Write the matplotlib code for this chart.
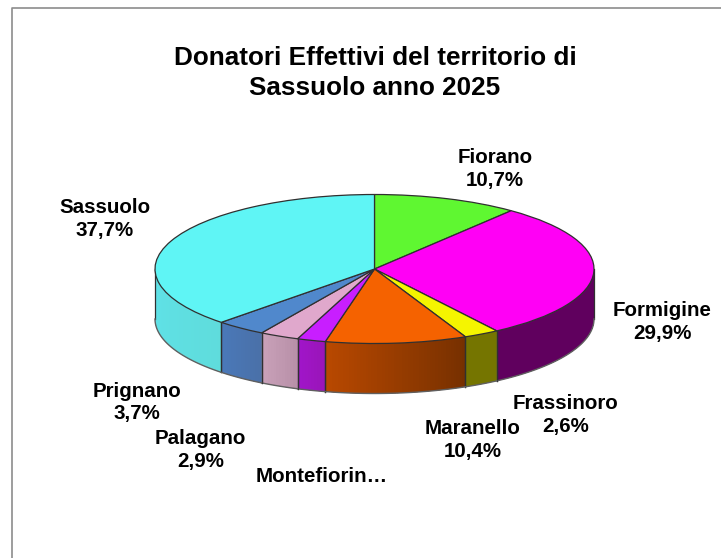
import numpy as np
import matplotlib
matplotlib.use("Agg")
import matplotlib.pyplot as plt
from matplotlib.lines import Line2D
from matplotlib.patches import Polygon
from matplotlib.colors import to_rgb

categories = ["Fiorano", "Formigine", "Frassinoro", "Maranello", "Montefiorino",
              "Palagano", "Prignano", "Sassuolo"]
values = [10.7, 29.9, 2.6, 10.4, 2.1, 2.9, 3.7, 37.7]
top_colors = ["#5ff731", "#ff00f5", "#f5f500", "#f56200", "#c81eff",
              "#e0a8cc", "#5088cc", "#5ff5f5"]
# side wall colours, at the clockwise start and end of each slice
side_start = ["#3a9a20", "#60005e", "#757500", "#763000", "#9a15b8",
              "#b890a8", "#4a70a8", "#5fdcdc"]
side_end = ["#3a9a20", "#60005e", "#757500", "#b84800", "#a015c8",
            "#c8a0b8", "#4a78b8", "#5fe2e8"]
label_text = ["Fiorano\n10,7%", "Formigine\n29,9%", "Frassinoro\n2,6%", "Maranello\n10,4%",
              "Montefiorin…", "Palagano\n2,9%", "Prignano\n3,7%", "Sassuolo\n37,7%"]
title_lines = ["Donatori Effettivi del territorio di", "Sassuolo anno 2025"]

W, H = 721, 558
CX, CY, RX, RY, DEPTH = 374.5, 269.0, 219.5, 74.5, 50.0
plt.rcParams["font.family"] = ["Liberation Sans", "DejaVu Sans"]
fig = plt.figure(figsize=(W / 100, H / 100), dpi=100, facecolor="white")
ax = fig.add_axes([0, 0, 1, 1])


def fx(px):
    return px / W


def fy(py):
    return 1 - py / H


fig.add_artist(Line2D([fx(11.5), fx(11.5), 1], [0, fy(8), fy(8)],
                      transform=fig.transFigure, color="#8c8c8c", lw=1.2))

d = DEPTH / RY
edge = "#303030"
fracs = np.array(values) / sum(values)
ends = 2 * np.pi * np.cumsum(fracs)
starts = np.concatenate([[0], ends[:-1]])
# side wall: clockwise angle from 12 o'clock; visible part is pi/2..3pi/2
for a0, a1, c0, c1 in zip(starts, ends, side_start, side_end):
    lo, hi = max(a0, np.pi / 2), min(a1, 3 * np.pi / 2)
    if hi <= lo:
        continue
    th = np.linspace(lo, hi, max(int((hi - lo) * 80), 2))
    x = np.sin(th)
    y = np.cos(th)
    outline = Polygon(np.c_[np.r_[x, x[::-1]], np.r_[y, y[::-1] - d]],
                      transform=ax.transData, fill=False, lw=0)
    ax.add_patch(outline)
    rgb0, rgb1 = np.array(to_rgb(c0)), np.array(to_rgb(c1))
    for i, (t0, t1) in enumerate(zip(th[:-1], th[1:])):
        tt = np.array([t0, t1])
        sx = np.sin(tt)
        sy = np.cos(tt)
        col = rgb0 + (rgb1 - rgb0) * i / max(len(th) - 2, 1)
        strip = ax.fill(np.r_[sx, sx[::-1]], np.r_[sy, sy[::-1] - d], color=col, lw=1.2,
                        antialiased=False, zorder=1)[0]
        strip.set_clip_path(outline)
    ax.plot([x[0], x[0]], [y[0], y[0] - d], color=edge, lw=0.9, zorder=2)
    ax.plot([x[-1], x[-1]], [y[-1], y[-1] - d], color=edge, lw=0.9, zorder=2)
    ax.plot(x, y - d, color="#606060", lw=1.0, zorder=2)

ax.pie(values, colors=top_colors, startangle=90, counterclock=False, radius=1,
       wedgeprops=dict(edgecolor=edge, linewidth=0.9, zorder=3))
ax.set_aspect("auto")
ax.set_xlim((0 - CX) / RX, (W - CX) / RX)
ax.set_ylim((CY - H) / RY, (CY - 0) / RY)
ax.axis("off")

for line, px, py in zip(title_lines, (375.5, 375), (58, 88)):
    fig.text(fx(px), fy(py), line, ha="center", va="center",
             fontsize=18.8, fontweight="bold", color="black")

label_pos = [(495, 169), (662, 322), (565.5, 415), (473, 440), (321.5, 476),
             (200.5, 450), (137, 402.5), (105, 219)]
for txt, (px, py) in zip(label_text, label_pos):
    fig.text(fx(px), fy(py), txt, ha="center", va="center", fontsize=14.8,
             fontweight="bold", color="black", linespacing=1.22)

fig.savefig("out.png", dpi=100)
